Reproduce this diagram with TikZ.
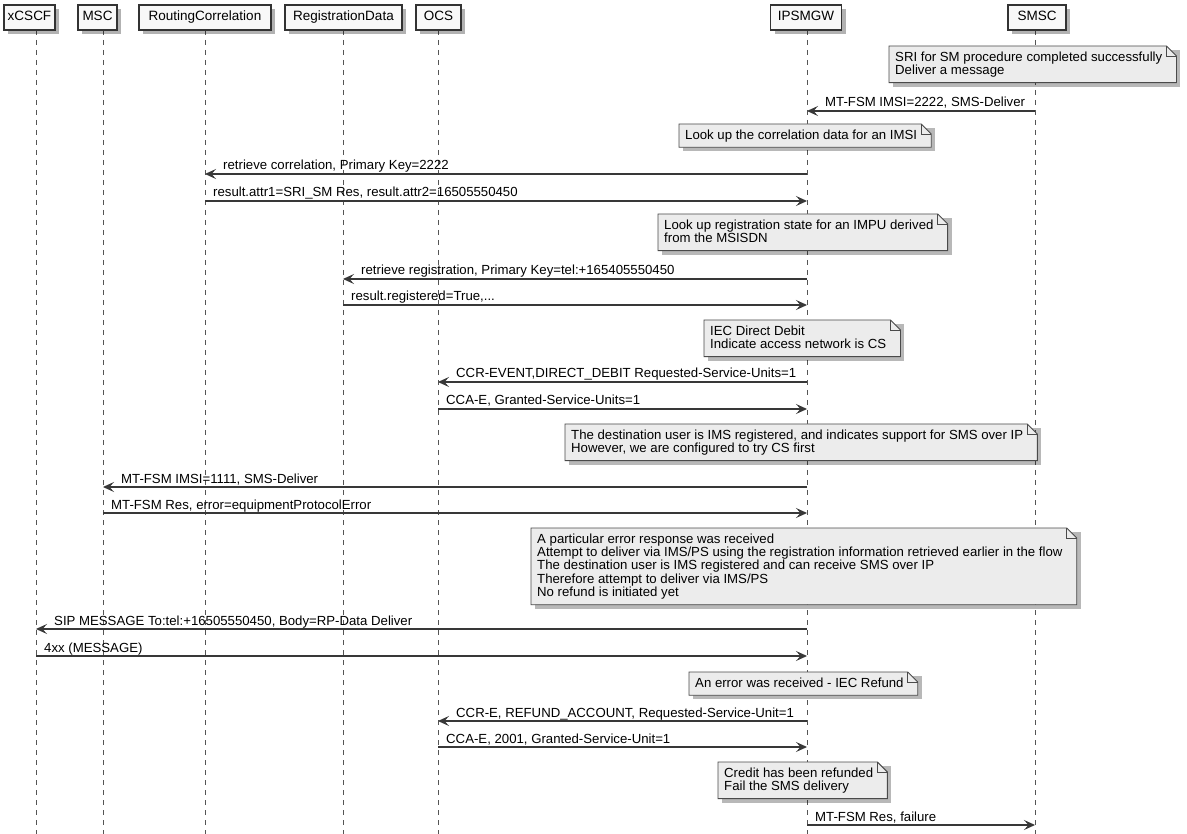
\documentclass[tikz,border=0pt]{standalone}
\usepackage{fontspec}
\setmainfont{Liberation Sans}
\usetikzlibrary{arrows.meta,calc,shadows}
\pgfdeclarelayer{bgl}
\pgfdeclarelayer{lifel}
\pgfdeclarelayer{notebg}
\pgfsetlayers{bgl,lifel,notebg,main}
\definecolor{lineC}{HTML}{383838}
\definecolor{boxFill}{HTML}{F8F8F8}
\definecolor{boxDraw}{HTML}{333333}
\definecolor{noteFill}{HTML}{ECECEC}
\definecolor{noteDraw}{HTML}{4A4A4A}
\definecolor{lifeC}{HTML}{555555}
\newcommand\ns{\rule[-2.8pt]{0pt}{12.3pt}}
\newcommand\notefont{\fontsize{13.2}{12.3}\selectfont}
\def\xX{36}
\def\xM{103}
\def\xR{205}
\def\xD{343}
\def\xO{438}
\def\xI{807}
\def\xS{1035}
\tikzset{
  part/.style={draw=boxDraw, line width=1.3pt, fill=boxFill, minimum height=25pt,
    inner xsep=2pt, text height=9.6pt, text depth=2.6pt, font=\fontsize{13.5}{15}\selectfont,
    drop shadow={shadow xshift=4pt, shadow yshift=-4pt, fill=black, opacity=0.3}},
  lifeline/.style={draw=lifeC, line width=0.8pt, dash pattern=on 5pt off 5pt},
  msgline/.style={draw=lineC, line width=1.1pt, -{Stealth[length=11pt,width=10pt,inset=4.5pt]}},
  msglabel/.style={anchor=base west, inner sep=0pt, font=\fontsize{13.2}{15}\selectfont},
  notetext/.style={anchor=north west, inner sep=0pt, align=left, font=\notefont},
  notebody/.style={draw=noteDraw, line width=0.9pt, fill=noteFill, line join=miter},
  noteshadow/.style={fill=black, opacity=0.28}
}
\newcommand\msgL[5]{%
  \coordinate (#1a) at (#2,#4);
  \coordinate (#1b) at (#3,#4);
  \draw[msgline] (#1a) -- (#1b);
  \node[msglabel] (#1t) at ($(#1b)+(18,-4)$) {#5};}
\newcommand\msgR[5]{%
  \coordinate (#1a) at (#2,#4);
  \coordinate (#1b) at (#3,#4);
  \draw[msgline] (#1a) -- (#1b);
  \node[msglabel] (#1t) at ($(#1a)+(8,-4)$) {#5};}
\newcommand\drawnote[4]{%
  \node[notetext] (#1) at (#2+6,#3+5.5) {#4};
  \begin{pgfonlayer}{notebg}
    \coordinate (#1tl) at (#2,#3);
    \coordinate (#1br) at ($(#1.south east)+(14,5)$);
    \coordinate (#1tr) at (#1tl -| #1br);
    \coordinate (#1bl) at (#1tl |- #1br);
    \fill[noteshadow] ($(#1tl)+(4,4)$) rectangle ($(#1br)+(4,4)$);
    \filldraw[notebody] (#1tl) -- ($(#1tr)+(-10,0)$) -- ($(#1tr)+(0,10)$) -- (#1br) -- (#1bl) -- cycle;
    \draw[notebody, fill=none] ($(#1tr)+(-10,0)$) -- ($(#1tr)+(-10,10)$) -- ($(#1tr)+(0,10)$);
  \end{pgfonlayer}}
\begin{document}
\begin{tikzpicture}[x=1pt,y=-1pt]
\useasboundingbox (0,0) rectangle (1187,834);
\begin{pgfonlayer}{bgl}
\fill[white] (0,0) rectangle (1187,834);
\end{pgfonlayer}
% participants
\node[part, minimum width=51pt] (xcscf) at (29.5,17.5) {xCSCF};
\node[part, minimum width=39pt] (msc) at (97.5,17.5) {MSC};
\node[part, minimum width=132pt] (rc) at (205,17.5) {RoutingCorrelation};
\node[part, minimum width=117pt] (rd) at (343.5,17.5) {RegistrationData};
\node[part, minimum width=45pt] (ocs) at (438.5,17.5) {OCS};
\node[part, minimum width=71pt] (ipsmgw) at (806,17.5) {IPSMGW};
\node[part, minimum width=58pt] (smsc) at (1037,17.5) {SMSC};
% lifelines
\begin{pgfonlayer}{lifel}
\coordinate (xcscftop) at (\xX,30);
\coordinate (msctop) at (\xM,30);
\coordinate (rctop) at (\xR,30);
\coordinate (rdtop) at (\xD,30);
\coordinate (ocstop) at (\xO,30);
\coordinate (ipsmgwtop) at (\xI,30);
\coordinate (smsctop) at (\xS,30);
\coordinate (xcscfend) at (\xX,834);
\coordinate (mscend) at (\xM,834);
\coordinate (rcend) at (\xR,834);
\coordinate (rdend) at (\xD,834);
\coordinate (ocsend) at (\xO,834);
\coordinate (ipsmgwend) at (\xI,834);
\coordinate (smscend) at (\xS,834);
\draw[lifeline] (xcscftop) -- (xcscfend);
\draw[lifeline] (msctop) -- (mscend);
\draw[lifeline] (rctop) -- (rcend);
\draw[lifeline] (rdtop) -- (rdend);
\draw[lifeline] (ocstop) -- (ocsend);
\draw[lifeline] (ipsmgwtop) -- (ipsmgwend);
\draw[lifeline] (smsctop) -- (smscend);
\end{pgfonlayer}
% sequence
\drawnote{n1}{889}{46}{\ns SRI for SM procedure completed successfully\\\ns Deliver a message}
\msgL{m1}{\xS}{\xI}{111}{MT-FSM IMSI=2222, SMS-Deliver}
\drawnote{n2}{679}{124}{\ns Look up the correlation data for an IMSI}
\msgL{m2}{\xI}{\xR}{174}{retrieve correlation, Primary Key=2222}
\msgR{m3}{\xR}{\xI}{201}{result.attr1=SRI\_SM Res, result.attr2=16505550450}
\drawnote{n3}{658}{214}{\ns Look up registration state for an IMPU derived\\\ns from the MSISDN}
\msgL{m4}{\xI}{\xD}{279}{retrieve registration, Primary Key=tel:+165405550450}
\msgR{m5}{\xD}{\xI}{305}{result.registered=True,...}
\drawnote{n4}{704}{320}{\ns IEC Direct Debit\\\ns Indicate access network is CS}
\msgL{m6}{\xI}{\xO}{382}{CCR-EVENT,DIRECT\_DEBIT Requested-Service-Units=1}
\msgR{m7}{\xO}{\xI}{409}{CCA-E, Granted-Service-Units=1}
\drawnote{n5}{565}{424}{\ns The destination user is IMS registered, and indicates support for SMS over IP\\\ns However, we are configured to try CS first}
\msgL{m8}{\xI}{\xM}{487}{MT-FSM IMSI=1111, SMS-Deliver}
\msgR{m9}{\xM}{\xI}{513}{MT-FSM Res, error=equipmentProtocolError}
\drawnote{n6}{531}{528}{\ns A particular error response was received\\\ns Attempt to deliver via IMS/PS using the registration information retrieved earlier in the flow\\\ns The destination user is IMS registered and can receive SMS over IP\\\ns Therefore attempt to deliver via IMS/PS\\\ns No refund is initiated yet}
\msgL{m10}{\xI}{\xX}{629}{SIP MESSAGE To:tel:+16505550450, Body=RP-Data Deliver}
\msgR{m11}{\xX}{\xI}{656}{4xx (MESSAGE)}
\drawnote{n7}{689}{672}{\ns An error was received - IEC Refund}
\msgL{m12}{\xI}{\xO}{721}{CCR-E, REFUND\_ACCOUNT, Requested-Service-Unit=1}
\msgR{m13}{\xO}{\xI}{747}{CCA-E, 2001, Granted-Service-Unit=1}
\drawnote{n8}{718}{762}{\ns Credit has been refunded\\\ns Fail the SMS delivery}
\msgR{m14}{\xI}{\xS}{825}{MT-FSM Res, failure}
\end{tikzpicture}
\end{document}
